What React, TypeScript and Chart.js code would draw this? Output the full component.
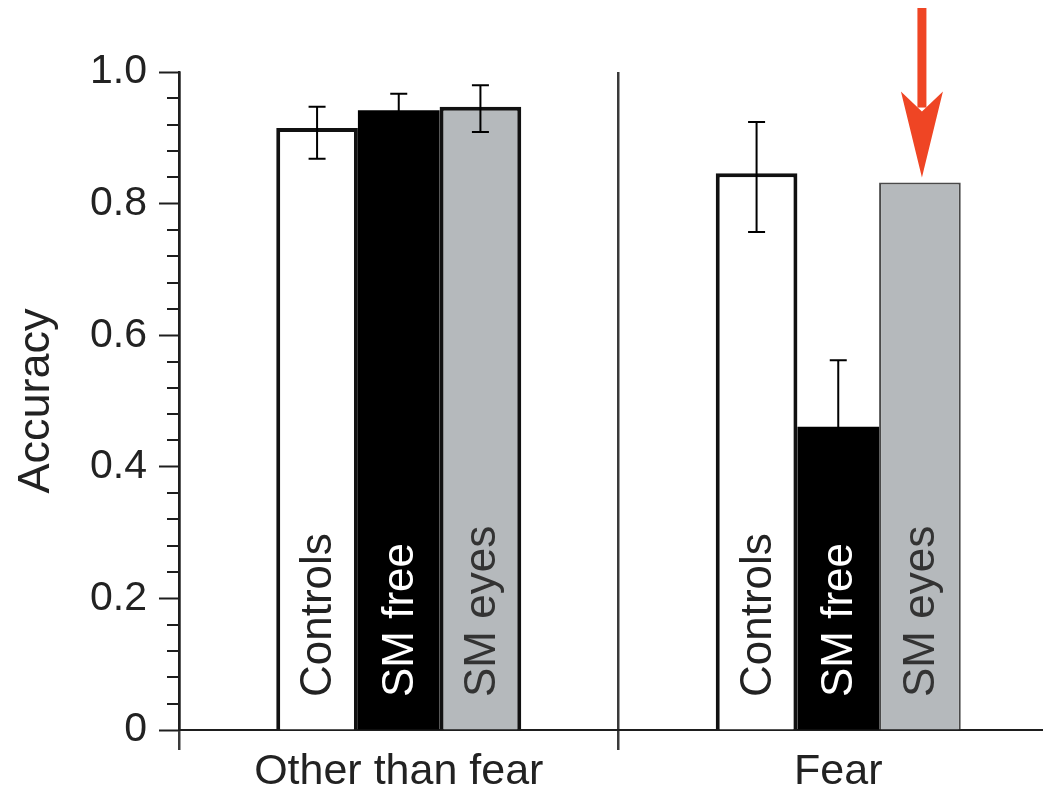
import React, { useEffect, useRef } from "react";
import { Chart, registerables } from "chart.js";

Chart.register(...registerables);

// ---- data ----
const categories = ["Other than fear", "Fear"];
const seriesNames = ["Controls", "SM free", "SM eyes"];
const controls = [0.915, 0.846];
const smFree = [0.942, 0.461];
const smEyes = [0.947, 0.832];
// error bar ranges [low, high] (null = none drawn)
const controlsErr: (number[] | null)[] = [[0.868, 0.947], [0.757, 0.924]];
const smFreeErr: (number[] | null)[] = [[0.917, 0.967], [0.36, 0.562]];
const smEyesErr: (number[] | null)[] = [[0.909, 0.98], null];
const yMajorTicks = [0, 0.2, 0.4, 0.6, 0.8, 1.0];
const yMinorTicks = [
  0.04, 0.08, 0.12, 0.16, 0.24, 0.28, 0.32, 0.36, 0.44, 0.48, 0.52, 0.56,
  0.64, 0.68, 0.72, 0.76, 0.84, 0.88, 0.92, 0.96,
];
const yAxisTitle = "Accuracy";

const FONT = "'Liberation Sans', Arial, Helvetica, sans-serif";
const INK = "#1e1e1e";

const overlayPlugin = {
  id: "overlay",
  afterDatasetsDraw(chart: any) {
    const ctx = chart.ctx;
    const ys = chart.scales.y;
    // minor ticks
    ctx.save();
    ctx.strokeStyle = INK;
    ctx.lineWidth = 2;
    const xr = chart.chartArea.left;
    yMinorTicks.forEach((v) => {
      const py = Math.round(ys.getPixelForValue(v));
      ctx.beginPath();
      ctx.moveTo(xr - 12, py);
      ctx.lineTo(xr, py);
      ctx.stroke();
    });
    ctx.restore();

    // in-bar labels
    const textColors = ["#222", "#ffffff", "#333"];
    seriesNames.forEach((name, di) => {
      const meta = chart.getDatasetMeta(di);
      meta.data.forEach((el: any) => {
        ctx.save();
        ctx.translate(el.x, ys.getPixelForValue(0) - 33);
        ctx.rotate(-Math.PI / 2);
        ctx.font = `44px ${FONT}`;
        ctx.fillStyle = textColors[di];
        ctx.textAlign = "left";
        ctx.textBaseline = "middle";
        ctx.fillText(name, 0, 2);
        ctx.restore();
      });
    });

    // error bars
    const errs = [controlsErr, smFreeErr, smEyesErr];
    errs.forEach((arr, di) => {
      const meta = chart.getDatasetMeta(di);
      arr.forEach((e, i) => {
        if (!e) return;
        const el = meta.data[i];
        const x = el.x;
        const y1 = ys.getPixelForValue(e[0]);
        const y2 = ys.getPixelForValue(e[1]);
        ctx.save();
        ctx.strokeStyle = "#000000";
        ctx.lineWidth = 2;
        ctx.beginPath();
        ctx.moveTo(x, y1);
        ctx.lineTo(x, y2);
        ctx.moveTo(x - 8.5, y1);
        ctx.lineTo(x + 8.5, y1);
        ctx.moveTo(x - 8.5, y2);
        ctx.lineTo(x + 8.5, y2);
        ctx.stroke();
        ctx.restore();
      });
    });
  },
  afterDraw(chart: any) {
    // red arrow pointing to the SM eyes / Fear bar
    const ctx = chart.ctx;
    const el = chart.getDatasetMeta(2).data[1];
    const x = el.x + 2;
    const tip = el.y - 5;
    ctx.save();
    ctx.fillStyle = "#ef4524";
    ctx.fillRect(x - 4.5, 8, 9, tip - 70 - 8);
    ctx.beginPath();
    ctx.moveTo(x, tip);
    ctx.lineTo(x - 21, tip - 86);
    ctx.lineTo(x, tip - 66);
    ctx.lineTo(x + 21, tip - 86);
    ctx.closePath();
    ctx.fill();
    ctx.restore();
  },
};

export default function App() {
  const ref = useRef<HTMLCanvasElement | null>(null);
  useEffect(() => {
    if (!ref.current) return;
    const chart = new Chart(ref.current, {
      type: "bar",
      data: {
        labels: categories,
        datasets: [
          {
            label: seriesNames[0],
            data: controls,
            backgroundColor: "#ffffff",
            borderColor: "#111111",
            borderWidth: 4,
            categoryPercentage: 0.5575,
            barPercentage: 1,
          },
          {
            label: seriesNames[1],
            data: smFree,
            backgroundColor: "#000000",
            borderColor: "#000000",
            borderWidth: 0,
            categoryPercentage: 0.5575,
            barPercentage: 1,
          },
          {
            label: seriesNames[2],
            data: smEyes,
            backgroundColor: "#b5b9bc",
            borderColor: ["#111111", "#4a4a4a"],
            borderWidth: [4, 2],
            categoryPercentage: 0.5575,
            barPercentage: 1,
          },
        ],
      },
      options: {
        responsive: false,
        animation: false,
        devicePixelRatio: 1,
        layout: { padding: { left: 0, top: 72, right: 12, bottom: 0 } },
        plugins: {
          legend: { display: false },
          tooltip: { enabled: false },
          title: { display: false },
        },
        scales: {
          x: {
            afterFit: (s: any) => {
              s.height = 62;
            },
            ticks: {
              font: { size: 43, family: FONT, lineHeight: 1 },
              color: "#222",
              padding: 1,
            },
            grid: {
              offset: true,
              drawOnChartArea: true,
              color: "#3a3a3a",
              lineWidth: 2.5,
              tickLength: 20,
            },
            border: { color: INK, width: 2 },
          },
          y: {
            min: 0,
            max: 1,
            afterFit: (s: any) => {
              s.width = 179;
            },
            afterBuildTicks: (s: any) => {
              s.ticks = yMajorTicks.map((v) => ({ value: v }));
            },
            ticks: {
              callback: (v: any) => (Number(v) === 0 ? "0" : Number(v).toFixed(1)),
              font: { size: 41, family: FONT },
              color: "#222",
              padding: 12,
            },
            grid: {
              drawOnChartArea: false,
              tickLength: 20,
              tickColor: INK,
              tickWidth: 2,
            },
            border: { color: INK, width: 2.5 },
            title: {
              display: true,
              text: yAxisTitle,
              font: { size: 45, family: FONT },
              color: "#222",
              padding: { top: 10, bottom: 0 },
            },
          },
        },
      },
      plugins: [overlayPlugin],
    });
    return () => chart.destroy();
  }, []);

  return (
    <div
      style={{
        position: "fixed",
        left: 0,
        top: 0,
        width: 1043,
        height: 792,
        overflow: "hidden",
        background: "#ffffff",
      }}
    >
      <canvas ref={ref} width={1070} height={792} style={{ display: "block" }} />
    </div>
  );
}
